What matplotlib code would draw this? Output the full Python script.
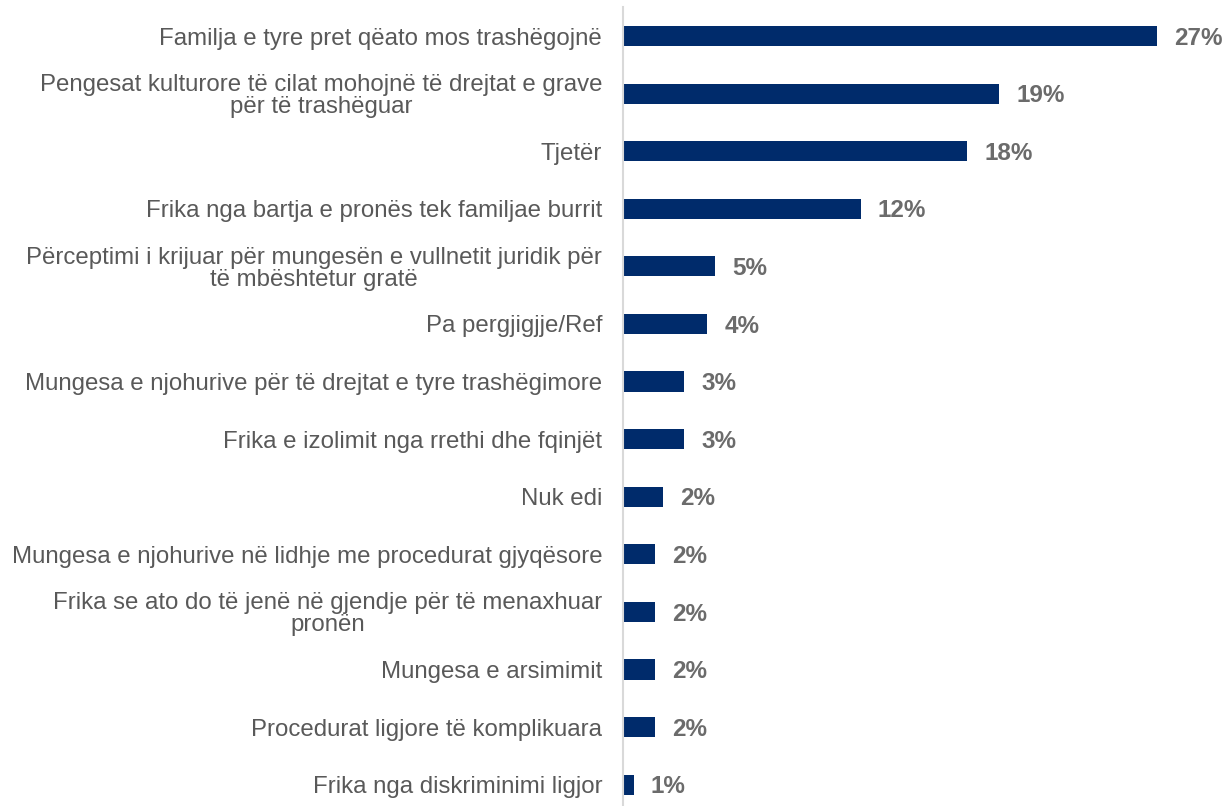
import matplotlib.pyplot as plt

categories = [
    "Familja e tyre pret qëato mos trashëgojnë",
    "Pengesat kulturore të cilat mohojnë të drejtat e grave\npër të trashëguar",
    "Tjetër",
    "Frika nga bartja e pronës tek familjae burrit",
    "Përceptimi i krijuar për mungesën e vullnetit juridik për\ntë mbështetur gratë",
    "Pa pergjigjje/Ref",
    "Mungesa e njohurive për të drejtat e tyre trashëgimore",
    "Frika e izolimit nga rrethi dhe fqinjët",
    "Nuk edi",
    "Mungesa e njohurive në lidhje me procedurat gjyqësore",
    "Frika se ato do të jenë në gjendje për të menaxhuar\npronën",
    "Mungesa e arsimimit",
    "Procedurat ligjore të komplikuara",
    "Frika nga diskriminimi ligjor",
]
values = [27.0, 19.0, 17.4, 12.0, 4.65, 4.25, 3.1, 3.1, 2.0, 1.6, 1.6, 1.6, 1.6, 0.55]
labels = ["27%", "19%", "18%", "12%", "5%", "4%", "3%", "3%", "2%", "2%", "2%", "2%", "2%", "1%"]

plt.rcParams['font.family'] = ['Liberation Sans', 'DejaVu Sans']

fig = plt.figure(figsize=(12.32, 8.06), dpi=100)
ax = fig.add_axes([0.5057, 0, 0.482, 0.991])

pos = list(range(len(values)))
ax.barh(pos, values, height=0.35, color="#002b6b")
ax.set_ylim(13.37, -0.5)
ax.set_xlim(0, 30)

for i, (v, lab) in enumerate(zip(values, labels)):
    ax.annotate(lab, (v, i), xytext=(12.3, -1.5), textcoords="offset points",
                ha="left", va="center", fontsize=17.5, fontweight="bold", color="#6b6b6b")

ax.set_yticks(pos)
ax.set_yticklabels(categories, fontsize=17.3, color="#595959",
                   multialignment="center", linespacing=0.98)
ax.tick_params(axis="y", length=0, pad=15)
ax.set_xticks([])
for s in ["top", "right", "bottom"]:
    ax.spines[s].set_visible(False)
ax.spines["left"].set_color("#d9d9d9")
ax.spines["left"].set_linewidth(1.5)

fig.savefig("out.png", dpi=100)
